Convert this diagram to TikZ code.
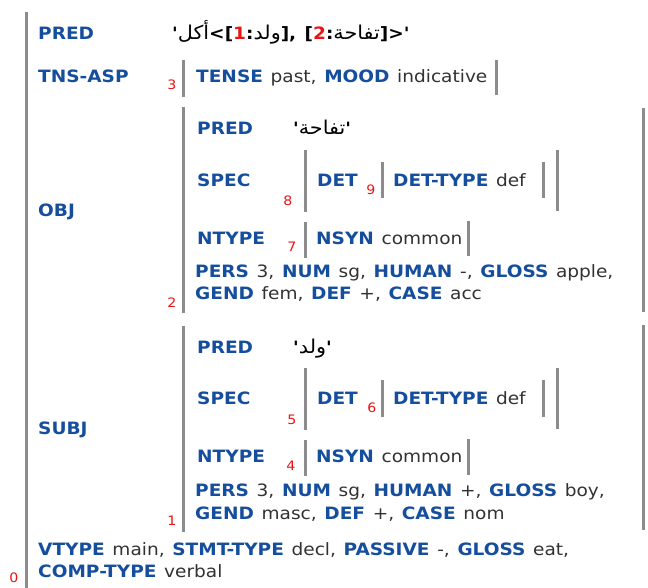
\documentclass[tikz,border=0pt]{standalone}
\usepackage{fontspec}
\setmainfont[Ligatures=TeXOff, FakeStretch=1.09, WordSpace=1.3]{DejaVu Sans}
\newfontfamily\arabicfont[Script=Arabic, FakeStretch=1.09, Scale=1.12]{DejaVu Sans}
\TeXXeTstate=1
\definecolor{attr}{RGB}{22,78,158}
\definecolor{val}{RGB}{50,50,50}
\definecolor{brk}{RGB}{140,140,140}
\definecolor{idx}{RGB}{235,20,20}
% attribute name, bold blue
\newcommand{\attr}[1]{\textbf{\color{attr}#1}}
% Arabic word, set right to left
\newcommand{\ar}[1]{{\arabicfont\mdseries\beginR #1\endR}}
% f-structure index inside a PRED value
\newcommand{\fidx}[1]{{\color{idx}#1}}
\tikzset{
  lbl/.style={anchor=west, inner sep=0pt, text=val,
    font=\fontsize{17}{20}\selectfont, text height=12.5pt, text depth=3.5pt},
  num/.style={anchor=center, inner sep=0pt, text=idx,
    font=\fontsize{13}{15}\selectfont},
  bar/.style={draw=brk, line width=3pt}
}
\begin{document}
\begin{tikzpicture}[x=1pt, y=-1pt]
\useasboundingbox[fill=white] (0,0) rectangle (648,588);

% outer f-structure
\draw[bar] (26,12) -- (26,588);
\node[num] (i0) at (14,578) {0};

% PRED
\node[lbl] (predL) at (38,35) {\attr{PRED}};
\node[lbl, text=black] (predV) at (172,35)
  {\bfseries '\ar{أكل}<[\fidx{1}:\ar{ولد}], [\fidx{2}:\ar{تفاحة}]>'};

% TNS-ASP
\node[lbl] (tnsL) at (38,78) {\attr{TNS-ASP}};
\node[num] (i3) at (172,85) {3};
\draw[bar] (183,60) -- (183,97);
\node[lbl] (tns) at (196,78) {\attr{TENSE} past, \attr{MOOD} indicative};
\draw[bar] (496,60) -- (496,95);

% OBJ
\node[lbl] (objL) at (38,212) {\attr{OBJ}};
\draw[bar] (183,107) -- (183,313);
\draw[bar] (643,108) -- (643,312);
\node[lbl] (oPredL) at (197,130) {\attr{PRED}};
\node[lbl, text=black] (oPredV) at (293,130) {\bfseries '\ar{تفاحة}'};
\node[lbl] (oSpecL) at (197,182) {\attr{SPEC}};
\node[num] (i8) at (288,201) {8};
\draw[bar] (305,150) -- (305,212);
\node[lbl] (oDet) at (317,182) {\attr{DET}};
\node[num] (i9) at (371,190) {9};
\draw[bar] (382,162) -- (382,198);
\node[lbl] (oDetT) at (393,182) {\attr{DET-TYPE} def};
\draw[bar] (543,162) -- (543,198);
\draw[bar] (557,150) -- (557,211);
\node[lbl] (oNtL) at (197,240) {\attr{NTYPE}};
\node[num] (i7) at (292,247) {7};
\draw[bar] (305,222) -- (305,258);
\node[lbl] (oNsyn) at (316,240) {\attr{NSYN} common};
\draw[bar] (468,221) -- (468,256);
\node[lbl] (oPers) at (195,273) {\attr{PERS} 3, \attr{NUM} sg, \attr{HUMAN} -, \attr{GLOSS} apple,};
\node[lbl] (oGend) at (195,295) {\attr{GEND} fem, \attr{DEF} +, \attr{CASE} acc};
\node[num] (i2) at (172,303) {2};

% SUBJ
\node[lbl] (subjL) at (38,430) {\attr{SUBJ}};
\draw[bar] (183,326) -- (183,532);
\draw[bar] (643,325) -- (643,530);
\node[lbl] (sPredL) at (197,349) {\attr{PRED}};
\node[lbl, text=black] (sPredV) at (293,349) {\bfseries '\ar{ولد}'};
\node[lbl] (sSpecL) at (197,400) {\attr{SPEC}};
\node[num] (i5) at (292,420) {5};
\draw[bar] (305,368) -- (305,430);
\node[lbl] (sDet) at (317,400) {\attr{DET}};
\node[num] (i6) at (372,408) {6};
\draw[bar] (382,380) -- (382,417);
\node[lbl] (sDetT) at (393,400) {\attr{DET-TYPE} def};
\draw[bar] (543,380) -- (543,417);
\draw[bar] (557,368) -- (557,429);
\node[lbl] (sNtL) at (197,458) {\attr{NTYPE}};
\node[num] (i4) at (291,466) {4};
\draw[bar] (305,440) -- (305,476);
\node[lbl] (sNsyn) at (316,458) {\attr{NSYN} common};
\draw[bar] (468,439) -- (468,475);
\node[lbl] (sPers) at (195,492) {\attr{PERS} 3, \attr{NUM} sg, \attr{HUMAN} +, \attr{GLOSS} boy,};
\node[lbl] (sGend) at (195,515) {\attr{GEND} masc, \attr{DEF} +, \attr{CASE} nom};
\node[num] (i1) at (172,521) {1};

% remaining features of the clause
\node[lbl] (vtype) at (38,551) {\attr{VTYPE} main, \attr{STMT-TYPE} decl, \attr{PASSIVE} -, \attr{GLOSS} eat,};
\node[lbl] (ctype) at (38,573) {\attr{COMP-TYPE} verbal};
\end{tikzpicture}
\end{document}
